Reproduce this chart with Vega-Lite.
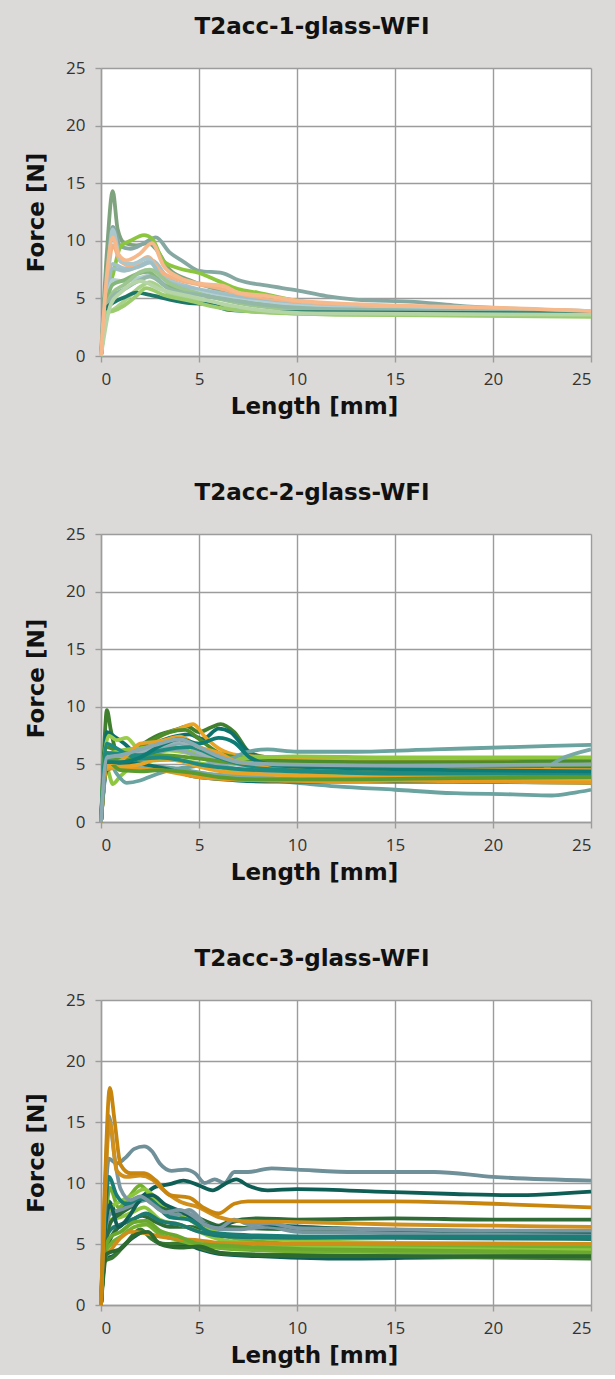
{
 "$schema": "https://vega.github.io/schema/vega-lite/v6.json",
 "background": "#dcdad8",
 "padding": {"left": 25, "top": 16, "right": 18, "bottom": 8},
 "spacing": 64,
 "resolve": {"scale": {"color": "independent"}},
 "config": {
  "view": {"fill": "white", "stroke": null},
  "title": {"font": "DejaVu Sans", "fontSize": 23, "fontWeight": "bold", "color": "#111111", "offset": 20, "anchor": "middle", "frame": "bounds"},
  "axis": {"gridColor": "#9c9c9c", "gridWidth": 1.4, "domainColor": "#9c9c9c", "domainWidth": 1.4, "tickColor": "#9c9c9c", "tickWidth": 1.4, "tickSize": 6, "labelFont": "Open Sans", "labelFontSize": 17, "labelColor": "#333333", "titleFont": "DejaVu Sans", "titleFontSize": 23, "titleFontWeight": "bold", "titleColor": "#111111"},
  "axisX": {"labelPadding": 9, "titlePadding": 8, "titleX": 213},
  "axisY": {"labelPadding": 10, "titlePadding": 17}
 },
 "datasets": {
  "d1": [
   {"s":"a","x":0,"y":0},{"s":"a","x":0.3,"y":9},{"s":"a","x":0.6,"y":14.3},{"s":"a","x":0.85,"y":11},{"s":"a","x":1.2,"y":9.8},{"s":"a","x":1.8,"y":9.6},{"s":"a","x":2.4,"y":9.8},{"s":"a","x":2.8,"y":9.3},{"s":"a","x":3.5,"y":7.5},{"s":"a","x":4.5,"y":6.6},{"s":"a","x":5.5,"y":6.0},{"s":"a","x":7,"y":5.3},{"s":"a","x":9,"y":4.8},{"s":"a","x":12,"y":4.3},{"s":"a","x":16,"y":4.0},{"s":"a","x":20,"y":3.8},{"s":"a","x":25,"y":3.7},
   {"s":"b","x":0,"y":0},{"s":"b","x":0.3,"y":7},{"s":"b","x":0.6,"y":11.2},{"s":"b","x":1.0,"y":9.5},{"s":"b","x":1.5,"y":9.3},{"s":"b","x":2.2,"y":9.8},{"s":"b","x":2.8,"y":10.3},{"s":"b","x":3.5,"y":9.0},{"s":"b","x":4.2,"y":8.2},{"s":"b","x":5,"y":7.4},{"s":"b","x":6.2,"y":7.2},{"s":"b","x":7,"y":6.6},{"s":"b","x":8.5,"y":6.1},{"s":"b","x":10,"y":5.7},{"s":"b","x":11.5,"y":5.2},{"s":"b","x":13,"y":4.9},{"s":"b","x":16,"y":4.7},{"s":"b","x":18,"y":4.4},{"s":"b","x":21,"y":4.1},{"s":"b","x":25,"y":3.9},
   {"s":"c","x":0,"y":0},{"s":"c","x":0.3,"y":5},{"s":"c","x":0.6,"y":7},{"s":"c","x":1.0,"y":9.5},{"s":"c","x":1.5,"y":10},{"s":"c","x":2.2,"y":10.5},{"s":"c","x":2.6,"y":10.2},{"s":"c","x":3.2,"y":8.2},{"s":"c","x":4,"y":7.6},{"s":"c","x":5,"y":7.2},{"s":"c","x":6,"y":6.5},{"s":"c","x":7,"y":5.8},{"s":"c","x":8,"y":5.5},{"s":"c","x":10,"y":4.8},{"s":"c","x":13,"y":4.3},{"s":"c","x":18,"y":4.0},{"s":"c","x":25,"y":3.8},
   {"s":"n","x":0,"y":0},{"s":"n","x":0.3,"y":5.5},{"s":"n","x":0.6,"y":8.0},{"s":"n","x":1.2,"y":7.6},{"s":"n","x":2,"y":7.9},{"s":"n","x":2.6,"y":8.3},{"s":"n","x":3.4,"y":6.8},{"s":"n","x":4.5,"y":6.0},{"s":"n","x":6,"y":5.5},{"s":"n","x":8,"y":4.9},{"s":"n","x":11,"y":4.3},{"s":"n","x":16,"y":4.0},{"s":"n","x":25,"y":3.8},
   {"s":"e","x":0,"y":0},{"s":"e","x":0.3,"y":6},{"s":"e","x":0.6,"y":9.6},{"s":"e","x":1.0,"y":8.2},{"s":"e","x":1.6,"y":7.8},{"s":"e","x":2.4,"y":8.6},{"s":"e","x":3,"y":7.4},{"s":"e","x":4,"y":6.6},{"s":"e","x":5,"y":6.2},{"s":"e","x":6,"y":5.9},{"s":"e","x":7.5,"y":5.2},{"s":"e","x":10,"y":4.6},{"s":"e","x":14,"y":4.3},{"s":"e","x":20,"y":4.1},{"s":"e","x":25,"y":3.9},
   {"s":"f","x":0,"y":0},{"s":"f","x":0.3,"y":6},{"s":"f","x":0.6,"y":11},{"s":"f","x":1.0,"y":8.2},{"s":"f","x":1.6,"y":8.0},{"s":"f","x":2.4,"y":8.5},{"s":"f","x":3,"y":7},{"s":"f","x":4,"y":6.2},{"s":"f","x":5,"y":5.6},{"s":"f","x":6.5,"y":5.2},{"s":"f","x":8,"y":4.7},{"s":"f","x":10,"y":4.4},{"s":"f","x":14,"y":4.1},{"s":"f","x":20,"y":3.9},{"s":"f","x":25,"y":3.8},
   {"s":"g","x":0,"y":0},{"s":"g","x":0.3,"y":5},{"s":"g","x":0.6,"y":7.6},{"s":"g","x":1.2,"y":7.4},{"s":"g","x":2,"y":7.8},{"s":"g","x":2.5,"y":8.1},{"s":"g","x":3.2,"y":6.6},{"s":"g","x":4.5,"y":5.9},{"s":"g","x":6,"y":5.4},{"s":"g","x":8,"y":4.8},{"s":"g","x":10,"y":4.4},{"s":"g","x":14,"y":4.0},{"s":"g","x":25,"y":3.8},
   {"s":"o","x":0,"y":0},{"s":"o","x":0.3,"y":4.5},{"s":"o","x":0.6,"y":6.6},{"s":"o","x":1.2,"y":6.5},{"s":"o","x":2,"y":6.8},{"s":"o","x":2.5,"y":7.0},{"s":"o","x":3.5,"y":6.0},{"s":"o","x":5,"y":5.5},{"s":"o","x":6.5,"y":5.0},{"s":"o","x":9,"y":4.5},{"s":"o","x":13,"y":4.1},{"s":"o","x":25,"y":3.9},
   {"s":"h","x":0,"y":0},{"s":"h","x":0.3,"y":4.5},{"s":"h","x":0.6,"y":6.2},{"s":"h","x":1.2,"y":6.6},{"s":"h","x":1.8,"y":7.1},{"s":"h","x":2.4,"y":7.3},{"s":"h","x":3.2,"y":6.2},{"s":"h","x":4.5,"y":5.6},{"s":"h","x":6,"y":5.0},{"s":"h","x":8,"y":4.5},{"s":"h","x":10,"y":4.1},{"s":"h","x":14,"y":3.9},{"s":"h","x":25,"y":3.7},
   {"s":"p","x":0,"y":0},{"s":"p","x":0.3,"y":4.2},{"s":"p","x":0.6,"y":5.5},{"s":"p","x":1.2,"y":6.2},{"s":"p","x":2,"y":7.3},{"s":"p","x":2.5,"y":7.5},{"s":"p","x":3.5,"y":6.3},{"s":"p","x":5,"y":5.4},{"s":"p","x":7,"y":4.6},{"s":"p","x":10,"y":4.0},{"s":"p","x":15,"y":3.8},{"s":"p","x":25,"y":3.6},
   {"s":"i","x":0,"y":0},{"s":"i","x":0.3,"y":4},{"s":"i","x":0.6,"y":5.2},{"s":"i","x":1.2,"y":5.8},{"s":"i","x":2,"y":6.6},{"s":"i","x":2.5,"y":6.9},{"s":"i","x":3.5,"y":5.8},{"s":"i","x":5,"y":5.3},{"s":"i","x":6.5,"y":4.9},{"s":"i","x":8,"y":4.5},{"s":"i","x":11,"y":4.1},{"s":"i","x":25,"y":3.8},
   {"s":"j","x":0,"y":0},{"s":"j","x":0.3,"y":3.8},{"s":"j","x":0.6,"y":4.0},{"s":"j","x":1.2,"y":4.8},{"s":"j","x":2,"y":6.0},{"s":"j","x":2.5,"y":6.4},{"s":"j","x":3.5,"y":5.4},{"s":"j","x":5,"y":4.9},{"s":"j","x":6,"y":4.4},{"s":"j","x":8,"y":3.9},{"s":"j","x":12,"y":3.6},{"s":"j","x":25,"y":3.5},
   {"s":"k","x":0,"y":0},{"s":"k","x":0.3,"y":4.2},{"s":"k","x":0.6,"y":4.6},{"s":"k","x":1.2,"y":5.1},{"s":"k","x":1.8,"y":5.5},{"s":"k","x":2.5,"y":5.3},{"s":"k","x":3.5,"y":4.9},{"s":"k","x":4.5,"y":4.6},{"s":"k","x":5.5,"y":4.5},{"s":"k","x":6.5,"y":4.0},{"s":"k","x":7.5,"y":3.9},{"s":"k","x":10,"y":3.8},{"s":"k","x":25,"y":3.7},
   {"s":"l","x":0,"y":0},{"s":"l","x":0.3,"y":3.8},{"s":"l","x":0.6,"y":3.9},{"s":"l","x":1.2,"y":4.4},{"s":"l","x":1.8,"y":5.2},{"s":"l","x":2.3,"y":5.9},{"s":"l","x":3.2,"y":5.3},{"s":"l","x":4.5,"y":4.8},{"s":"l","x":6,"y":4.2},{"s":"l","x":8,"y":3.8},{"s":"l","x":12,"y":3.6},{"s":"l","x":25,"y":3.4},
   {"s":"m","x":0,"y":0},{"s":"m","x":0.5,"y":4.5},{"s":"m","x":1,"y":5.5},{"s":"m","x":2,"y":6.5},{"s":"m","x":3,"y":5.8},{"s":"m","x":4.5,"y":5.2},{"s":"m","x":6,"y":4.6},{"s":"m","x":8,"y":4.0},{"s":"m","x":11,"y":3.7},{"s":"m","x":25,"y":3.6},
   {"s":"d","x":0,"y":0},{"s":"d","x":0.3,"y":7},{"s":"d","x":0.6,"y":10.3},{"s":"d","x":0.9,"y":8.8},{"s":"d","x":1.3,"y":8.3},{"s":"d","x":2,"y":8.9},{"s":"d","x":2.6,"y":9.8},{"s":"d","x":3.2,"y":7.8},{"s":"d","x":4,"y":6.8},{"s":"d","x":5,"y":6.3},{"s":"d","x":6.2,"y":6.1},{"s":"d","x":7,"y":5.5},{"s":"d","x":8.5,"y":5.2},{"s":"d","x":10,"y":4.8},{"s":"d","x":13,"y":4.5},{"s":"d","x":17,"y":4.3},{"s":"d","x":20,"y":4.2},{"s":"d","x":25,"y":3.9}
  ],
  "d2": [
   {"s":"a","x":0,"y":0},{"s":"a","x":0.15,"y":6},{"s":"a","x":0.3,"y":9.7},{"s":"a","x":0.5,"y":8},{"s":"a","x":0.8,"y":6},{"s":"a","x":1.3,"y":5.6},{"s":"a","x":2,"y":6.6},{"s":"a","x":3,"y":7.6},{"s":"a","x":3.8,"y":8.0},{"s":"a","x":4.4,"y":8.3},{"s":"a","x":5,"y":7.8},{"s":"a","x":5.6,"y":8.2},{"s":"a","x":6.1,"y":8.5},{"s":"a","x":6.8,"y":7.8},{"s":"a","x":7.6,"y":6.0},{"s":"a","x":8.5,"y":5.6},{"s":"a","x":10,"y":5.4},{"s":"a","x":13,"y":5.3},{"s":"a","x":18,"y":5.4},{"s":"a","x":25,"y":5.5},
   {"s":"b","x":0,"y":0},{"s":"b","x":0.15,"y":5},{"s":"b","x":0.3,"y":7.8},{"s":"b","x":0.7,"y":7.4},{"s":"b","x":1.2,"y":6.8},{"s":"b","x":1.8,"y":6.0},{"s":"b","x":2.5,"y":6.6},{"s":"b","x":3.5,"y":7.3},{"s":"b","x":4.5,"y":7.6},{"s":"b","x":5.2,"y":7.2},{"s":"b","x":6,"y":8.1},{"s":"b","x":6.6,"y":7.8},{"s":"b","x":7.4,"y":6.3},{"s":"b","x":8.5,"y":5.4},{"s":"b","x":10,"y":5.0},{"s":"b","x":15,"y":4.8},{"s":"b","x":20,"y":4.8},{"s":"b","x":25,"y":4.7},
   {"s":"c","x":0,"y":0},{"s":"c","x":0.3,"y":5.2},{"s":"c","x":1,"y":5.0},{"s":"c","x":2,"y":5.8},{"s":"c","x":3,"y":7.4},{"s":"c","x":4,"y":8.1},{"s":"c","x":4.7,"y":8.5},{"s":"c","x":5.3,"y":7.4},{"s":"c","x":6,"y":6.4},{"s":"c","x":7,"y":5.8},{"s":"c","x":9,"y":5.6},{"s":"c","x":12,"y":5.4},{"s":"c","x":18,"y":5.3},{"s":"c","x":25,"y":5.2},
   {"s":"d","x":0,"y":0},{"s":"d","x":0.15,"y":4},{"s":"d","x":0.3,"y":4.6},{"s":"d","x":0.6,"y":3.3},{"s":"d","x":1,"y":4.0},{"s":"d","x":1.6,"y":4.8},{"s":"d","x":2.5,"y":5.3},{"s":"d","x":3.5,"y":5.4},{"s":"d","x":5,"y":5.1},{"s":"d","x":6.5,"y":4.6},{"s":"d","x":8,"y":4.3},{"s":"d","x":12,"y":4.1},{"s":"d","x":18,"y":4.0},{"s":"d","x":25,"y":4.1},
   {"s":"e","x":0,"y":0},{"s":"e","x":0.2,"y":6},{"s":"e","x":0.4,"y":7.5},{"s":"e","x":0.8,"y":7.1},{"s":"e","x":1.3,"y":7.3},{"s":"e","x":1.8,"y":6.5},{"s":"e","x":2.5,"y":6.0},{"s":"e","x":3.5,"y":6.2},{"s":"e","x":5,"y":5.8},{"s":"e","x":7,"y":5.4},{"s":"e","x":10,"y":5.2},{"s":"e","x":15,"y":5.1},{"s":"e","x":25,"y":5.0},
   {"s":"q","x":0,"y":0},{"s":"q","x":0.3,"y":6.5},{"s":"q","x":0.8,"y":6.2},{"s":"q","x":1.5,"y":6.0},{"s":"q","x":2.5,"y":7.0},{"s":"q","x":3.5,"y":7.8},{"s":"q","x":4.3,"y":8.0},{"s":"q","x":5,"y":7.2},{"s":"q","x":6,"y":6.0},{"s":"q","x":7,"y":5.6},{"s":"q","x":9,"y":5.3},{"s":"q","x":13,"y":5.2},{"s":"q","x":20,"y":5.2},{"s":"q","x":25,"y":5.3},
   {"s":"r","x":0,"y":0},{"s":"r","x":0.3,"y":5.8},{"s":"r","x":1,"y":6.2},{"s":"r","x":2,"y":6.4},{"s":"r","x":3,"y":6.6},{"s":"r","x":4,"y":6.4},{"s":"r","x":5,"y":5.9},{"s":"r","x":6.5,"y":5.5},{"s":"r","x":8,"y":5.6},{"s":"r","x":10,"y":5.7},{"s":"r","x":15,"y":5.6},{"s":"r","x":25,"y":5.6},
   {"s":"f","x":0,"y":0},{"s":"f","x":0.3,"y":5},{"s":"f","x":1,"y":5.5},{"s":"f","x":2,"y":5.9},{"s":"f","x":3,"y":6.3},{"s":"f","x":4,"y":6.8},{"s":"f","x":4.8,"y":6.6},{"s":"f","x":6,"y":5.6},{"s":"f","x":7.5,"y":4.9},{"s":"f","x":10,"y":4.5},{"s":"f","x":14,"y":4.2},{"s":"f","x":20,"y":4.0},{"s":"f","x":25,"y":4.0},
   {"s":"g","x":0,"y":0},{"s":"g","x":0.3,"y":5.5},{"s":"g","x":1,"y":5.7},{"s":"g","x":2,"y":6.0},{"s":"g","x":3,"y":6.6},{"s":"g","x":4,"y":7.0},{"s":"g","x":5,"y":6.0},{"s":"g","x":6,"y":5.3},{"s":"g","x":8,"y":4.8},{"s":"g","x":11,"y":4.5},{"s":"g","x":16,"y":4.4},{"s":"g","x":25,"y":4.3},
   {"s":"h","x":0,"y":0},{"s":"h","x":0.2,"y":4},{"s":"h","x":0.4,"y":5.2},{"s":"h","x":0.8,"y":4.2},{"s":"h","x":1.3,"y":3.4},{"s":"h","x":2,"y":3.6},{"s":"h","x":2.6,"y":4.0},{"s":"h","x":3.5,"y":4.5},{"s":"h","x":5,"y":4.9},{"s":"h","x":6.5,"y":5.4},{"s":"h","x":7.5,"y":6.1},{"s":"h","x":8.5,"y":6.3},{"s":"h","x":10,"y":6.1},{"s":"h","x":13,"y":6.1},{"s":"h","x":17,"y":6.3},{"s":"h","x":21,"y":6.5},{"s":"h","x":25,"y":6.7},
   {"s":"i","x":0,"y":0},{"s":"i","x":0.3,"y":5.0},{"s":"i","x":1,"y":5.4},{"s":"i","x":2,"y":5.0},{"s":"i","x":3,"y":4.8},{"s":"i","x":4,"y":4.6},{"s":"i","x":5,"y":4.3},{"s":"i","x":6.5,"y":3.9},{"s":"i","x":8,"y":3.7},{"s":"i","x":10,"y":3.4},{"s":"i","x":12,"y":3.1},{"s":"i","x":15,"y":2.8},{"s":"i","x":18,"y":2.5},{"s":"i","x":21,"y":2.4},{"s":"i","x":23,"y":2.3},{"s":"i","x":24,"y":2.5},{"s":"i","x":25,"y":2.8},
   {"s":"j","x":0,"y":0},{"s":"j","x":0.3,"y":4.8},{"s":"j","x":1,"y":5.0},{"s":"j","x":2,"y":4.7},{"s":"j","x":4,"y":4.4},{"s":"j","x":6,"y":4.1},{"s":"j","x":8,"y":3.9},{"s":"j","x":12,"y":3.6},{"s":"j","x":16,"y":3.5},{"s":"j","x":20,"y":3.5},{"s":"j","x":22,"y":4.0},{"s":"j","x":23.5,"y":5.5},{"s":"j","x":25,"y":6.3},
   {"s":"u","x":0,"y":0},{"s":"u","x":0.3,"y":4.6},{"s":"u","x":1,"y":4.8},{"s":"u","x":1.8,"y":5.2},{"s":"u","x":2.8,"y":6.0},{"s":"u","x":3.8,"y":6.3},{"s":"u","x":4.8,"y":5.8},{"s":"u","x":6,"y":5.0},{"s":"u","x":8,"y":4.3},{"s":"u","x":12,"y":3.9},{"s":"u","x":18,"y":3.7},{"s":"u","x":25,"y":3.6},
   {"s":"k","x":0,"y":0},{"s":"k","x":0.3,"y":4.5},{"s":"k","x":1,"y":4.9},{"s":"k","x":1.8,"y":5.1},{"s":"k","x":2.8,"y":4.8},{"s":"k","x":3.8,"y":4.4},{"s":"k","x":4.6,"y":4.0},{"s":"k","x":5.5,"y":3.8},{"s":"k","x":7,"y":3.6},{"s":"k","x":9,"y":3.5},{"s":"k","x":12,"y":3.5},{"s":"k","x":18,"y":3.5},{"s":"k","x":25,"y":3.4},
   {"s":"l","x":0,"y":0},{"s":"l","x":0.3,"y":4.6},{"s":"l","x":1,"y":4.7},{"s":"l","x":2,"y":4.6},{"s":"l","x":3,"y":4.5},{"s":"l","x":4,"y":4.2},{"s":"l","x":5,"y":3.9},{"s":"l","x":6.5,"y":3.7},{"s":"l","x":9,"y":3.6},{"s":"l","x":12,"y":3.5},{"s":"l","x":15,"y":3.6},{"s":"l","x":20,"y":3.5},{"s":"l","x":25,"y":3.4},
   {"s":"t","x":0,"y":0},{"s":"t","x":0.3,"y":4.8},{"s":"t","x":1,"y":4.8},{"s":"t","x":2,"y":5.0},{"s":"t","x":3,"y":5.5},{"s":"t","x":4,"y":5.3},{"s":"t","x":5,"y":4.8},{"s":"t","x":6.5,"y":4.3},{"s":"t","x":9,"y":4.1},{"s":"t","x":13,"y":3.9},{"s":"t","x":18,"y":3.8},{"s":"t","x":25,"y":3.7},
   {"s":"v","x":0,"y":0},{"s":"v","x":0.3,"y":5.3},{"s":"v","x":1,"y":4.5},{"s":"v","x":2,"y":4.4},{"s":"v","x":3,"y":4.5},{"s":"v","x":4.5,"y":4.3},{"s":"v","x":6,"y":3.9},{"s":"v","x":8,"y":3.7},{"s":"v","x":12,"y":3.7},{"s":"v","x":18,"y":3.8},{"s":"v","x":25,"y":3.9},
   {"s":"m","x":0,"y":0},{"s":"m","x":0.3,"y":5.5},{"s":"m","x":1,"y":5.4},{"s":"m","x":2,"y":5.5},{"s":"m","x":3,"y":5.8},{"s":"m","x":5,"y":5.5},{"s":"m","x":7,"y":5.1},{"s":"m","x":9,"y":5.0},{"s":"m","x":13,"y":4.9},{"s":"m","x":25,"y":4.9},
   {"s":"w","x":0,"y":0},{"s":"w","x":0.3,"y":6.8},{"s":"w","x":0.7,"y":6.5},{"s":"w","x":1.2,"y":6.0},{"s":"w","x":2,"y":5.5},{"s":"w","x":3,"y":5.6},{"s":"w","x":4,"y":5.4},{"s":"w","x":5,"y":5.0},{"s":"w","x":7,"y":4.6},{"s":"w","x":10,"y":4.4},{"s":"w","x":15,"y":4.2},{"s":"w","x":25,"y":4.2},
   {"s":"n","x":0,"y":0},{"s":"n","x":0.3,"y":6},{"s":"n","x":1,"y":5.9},{"s":"n","x":2,"y":5.8},{"s":"n","x":3,"y":6.2},{"s":"n","x":4.5,"y":6.5},{"s":"n","x":6,"y":5.6},{"s":"n","x":7.5,"y":4.9},{"s":"n","x":10,"y":4.6},{"s":"n","x":15,"y":4.5},{"s":"n","x":25,"y":4.5},
   {"s":"o","x":0,"y":0},{"s":"o","x":0.3,"y":5},{"s":"o","x":1,"y":5.3},{"s":"o","x":2,"y":6.8},{"s":"o","x":3,"y":7.0},{"s":"o","x":4,"y":7.4},{"s":"o","x":5,"y":6.5},{"s":"o","x":6,"y":6.0},{"s":"o","x":7,"y":5.2},{"s":"o","x":10,"y":4.8},{"s":"o","x":15,"y":4.6},{"s":"o","x":25,"y":4.5},
   {"s":"s","x":0,"y":0},{"s":"s","x":0.3,"y":5.2},{"s":"s","x":1,"y":5.2},{"s":"s","x":2,"y":5.6},{"s":"s","x":3,"y":6.6},{"s":"s","x":4,"y":7.2},{"s":"s","x":5,"y":6.8},{"s":"s","x":6,"y":7.3},{"s":"s","x":6.8,"y":6.9},{"s":"s","x":7.6,"y":5.6},{"s":"s","x":9,"y":4.9},{"s":"s","x":12,"y":4.7},{"s":"s","x":18,"y":4.5},{"s":"s","x":25,"y":4.4},
   {"s":"p","x":0,"y":0},{"s":"p","x":0.3,"y":5.6},{"s":"p","x":1,"y":5.8},{"s":"p","x":2,"y":6.3},{"s":"p","x":3,"y":6.8},{"s":"p","x":4,"y":7.2},{"s":"p","x":5,"y":6.5},{"s":"p","x":6,"y":5.7},{"s":"p","x":7,"y":5.2},{"s":"p","x":9,"y":5.0},{"s":"p","x":14,"y":4.9},{"s":"p","x":25,"y":5.0}
  ],
  "d3": [
   {"s":"a","x":0,"y":0.5},{"s":"a","x":0.2,"y":8},{"s":"a","x":0.4,"y":12},{"s":"a","x":0.8,"y":11.6},{"s":"a","x":1.2,"y":12.0},{"s":"a","x":1.7,"y":12.8},{"s":"a","x":2.2,"y":13.0},{"s":"a","x":2.6,"y":12.6},{"s":"a","x":3,"y":11.6},{"s":"a","x":3.6,"y":11.0},{"s":"a","x":4.3,"y":11.1},{"s":"a","x":4.8,"y":10.8},{"s":"a","x":5.3,"y":10.0},{"s":"a","x":5.8,"y":10.3},{"s":"a","x":6.3,"y":10.0},{"s":"a","x":6.8,"y":10.9},{"s":"a","x":7.5,"y":10.9},{"s":"a","x":8.7,"y":11.2},{"s":"a","x":10,"y":11.1},{"s":"a","x":13,"y":10.9},{"s":"a","x":17,"y":10.9},{"s":"a","x":20,"y":10.5},{"s":"a","x":25,"y":10.2},
   {"s":"b","x":0,"y":0},{"s":"b","x":0.2,"y":5},{"s":"b","x":0.4,"y":8.5},{"s":"b","x":0.8,"y":7.5},{"s":"b","x":1.3,"y":8.2},{"s":"b","x":2,"y":8.8},{"s":"b","x":2.8,"y":9.7},{"s":"b","x":3.5,"y":9.9},{"s":"b","x":4.2,"y":10.2},{"s":"b","x":5,"y":9.8},{"s":"b","x":5.7,"y":9.4},{"s":"b","x":6.3,"y":9.9},{"s":"b","x":6.9,"y":10.3},{"s":"b","x":7.5,"y":9.8},{"s":"b","x":8.5,"y":9.4},{"s":"b","x":10,"y":9.5},{"s":"b","x":14,"y":9.3},{"s":"b","x":18,"y":9.1},{"s":"b","x":21,"y":9.0},{"s":"b","x":25,"y":9.3},
   {"s":"f","x":0,"y":0},{"s":"f","x":0.2,"y":4},{"s":"f","x":0.5,"y":5.5},{"s":"f","x":1,"y":6.5},{"s":"f","x":1.6,"y":7.0},{"s":"f","x":2.1,"y":7.3},{"s":"f","x":2.8,"y":6.8},{"s":"f","x":3.5,"y":6.4},{"s":"f","x":4.5,"y":6.4},{"s":"f","x":5.5,"y":6.2},{"s":"f","x":6.5,"y":6.8},{"s":"f","x":8,"y":7.1},{"s":"f","x":10,"y":7.0},{"s":"f","x":15,"y":7.1},{"s":"f","x":20,"y":7.0},{"s":"f","x":25,"y":7.0},
   {"s":"g","x":0,"y":0},{"s":"g","x":0.2,"y":6},{"s":"g","x":0.45,"y":9.6},{"s":"g","x":0.9,"y":8.0},{"s":"g","x":1.4,"y":8.8},{"s":"g","x":2,"y":9.8},{"s":"g","x":2.6,"y":8.8},{"s":"g","x":3.3,"y":7.8},{"s":"g","x":4.2,"y":7.3},{"s":"g","x":5,"y":6.5},{"s":"g","x":6,"y":5.8},{"s":"g","x":7,"y":5.4},{"s":"g","x":9,"y":5.1},{"s":"g","x":12,"y":4.9},{"s":"g","x":18,"y":4.8},{"s":"g","x":25,"y":4.7},
   {"s":"r","x":0,"y":0},{"s":"r","x":0.2,"y":5.5},{"s":"r","x":0.5,"y":8},{"s":"r","x":1,"y":8.5},{"s":"r","x":1.6,"y":9.0},{"s":"r","x":2.2,"y":9.5},{"s":"r","x":3,"y":8.4},{"s":"r","x":4,"y":7.6},{"s":"r","x":5,"y":6.8},{"s":"r","x":6,"y":5.9},{"s":"r","x":7.5,"y":5.6},{"s":"r","x":10,"y":5.3},{"s":"r","x":15,"y":5.1},{"s":"r","x":25,"y":5.0},
   {"s":"h","x":0,"y":0},{"s":"h","x":0.2,"y":5},{"s":"h","x":0.5,"y":7},{"s":"h","x":1,"y":7.2},{"s":"h","x":1.6,"y":7.6},{"s":"h","x":2.2,"y":8.0},{"s":"h","x":3,"y":7.0},{"s":"h","x":4,"y":6.6},{"s":"h","x":5,"y":6.0},{"s":"h","x":6,"y":5.4},{"s":"h","x":8,"y":5.0},{"s":"h","x":12,"y":4.7},{"s":"h","x":25,"y":4.5},
   {"s":"i","x":0,"y":0},{"s":"i","x":0.2,"y":3.8},{"s":"i","x":0.6,"y":4.0},{"s":"i","x":1.1,"y":4.8},{"s":"i","x":1.7,"y":5.6},{"s":"i","x":2.2,"y":6.0},{"s":"i","x":2.8,"y":5.2},{"s":"i","x":3.5,"y":4.9},{"s":"i","x":4.3,"y":5.0},{"s":"i","x":5,"y":4.6},{"s":"i","x":6,"y":4.2},{"s":"i","x":8,"y":4.0},{"s":"i","x":12,"y":3.8},{"s":"i","x":18,"y":3.9},{"s":"i","x":25,"y":3.9},
   {"s":"j","x":0,"y":0},{"s":"j","x":0.2,"y":3.6},{"s":"j","x":0.6,"y":3.9},{"s":"j","x":1.3,"y":5.1},{"s":"j","x":2,"y":6.2},{"s":"j","x":2.6,"y":5.4},{"s":"j","x":3.3,"y":5.0},{"s":"j","x":4.3,"y":5.1},{"s":"j","x":5.2,"y":4.6},{"s":"j","x":6.5,"y":4.2},{"s":"j","x":10,"y":4.1},{"s":"j","x":15,"y":4.0},{"s":"j","x":25,"y":3.8},
   {"s":"t","x":0,"y":0},{"s":"t","x":0.2,"y":4.2},{"s":"t","x":0.5,"y":5.0},{"s":"t","x":1,"y":5.6},{"s":"t","x":1.7,"y":6.4},{"s":"t","x":2.3,"y":6.6},{"s":"t","x":3,"y":5.8},{"s":"t","x":4,"y":5.3},{"s":"t","x":5,"y":4.9},{"s":"t","x":6.5,"y":4.6},{"s":"t","x":10,"y":4.4},{"s":"t","x":25,"y":4.2},
   {"s":"k","x":0,"y":0},{"s":"k","x":0.2,"y":5},{"s":"k","x":0.5,"y":6.2},{"s":"k","x":1,"y":6.6},{"s":"k","x":1.6,"y":7.0},{"s":"k","x":2.3,"y":7.5},{"s":"k","x":3,"y":6.9},{"s":"k","x":4,"y":6.6},{"s":"k","x":5,"y":6.0},{"s":"k","x":6.5,"y":5.6},{"s":"k","x":10,"y":5.5},{"s":"k","x":15,"y":5.5},{"s":"k","x":25,"y":5.4},
   {"s":"l","x":0,"y":0},{"s":"l","x":0.2,"y":3.8},{"s":"l","x":0.5,"y":4.5},{"s":"l","x":1,"y":5.5},{"s":"l","x":1.5,"y":6.0},{"s":"l","x":2.2,"y":5.9},{"s":"l","x":3,"y":5.6},{"s":"l","x":4,"y":5.4},{"s":"l","x":5,"y":5.3},{"s":"l","x":6,"y":5.1},{"s":"l","x":10,"y":5.0},{"s":"l","x":15,"y":5.0},{"s":"l","x":25,"y":5.0},
   {"s":"s","x":0,"y":0},{"s":"s","x":0.2,"y":4.6},{"s":"s","x":0.5,"y":6.8},{"s":"s","x":1,"y":7.5},{"s":"s","x":1.7,"y":8.2},{"s":"s","x":2.3,"y":8.8},{"s":"s","x":3,"y":8.0},{"s":"s","x":4,"y":7.6},{"s":"s","x":5,"y":7.1},{"s":"s","x":6,"y":6.5},{"s":"s","x":7.5,"y":6.3},{"s":"s","x":10,"y":6.2},{"s":"s","x":15,"y":6.1},{"s":"s","x":25,"y":6.0},
   {"s":"m","x":0,"y":0},{"s":"m","x":0.2,"y":6},{"s":"m","x":0.5,"y":7.5},{"s":"m","x":1,"y":7.8},{"s":"m","x":1.6,"y":8.2},{"s":"m","x":2.3,"y":8.6},{"s":"m","x":3,"y":7.8},{"s":"m","x":3.8,"y":7.4},{"s":"m","x":4.5,"y":7.8},{"s":"m","x":5.3,"y":6.7},{"s":"m","x":6.2,"y":6.2},{"s":"m","x":7,"y":6.2},{"s":"m","x":8.5,"y":6.4},{"s":"m","x":10,"y":6.0},{"s":"m","x":15,"y":5.9},{"s":"m","x":25,"y":5.8},
   {"s":"n","x":0,"y":0},{"s":"n","x":0.2,"y":6},{"s":"n","x":0.45,"y":8.2},{"s":"n","x":0.9,"y":6.4},{"s":"n","x":1.4,"y":7.2},{"s":"n","x":2,"y":8.6},{"s":"n","x":2.6,"y":9.0},{"s":"n","x":3.3,"y":8.2},{"s":"n","x":4.2,"y":7.6},{"s":"n","x":5,"y":6.8},{"s":"n","x":6,"y":6.4},{"s":"n","x":7,"y":6.9},{"s":"n","x":8.5,"y":6.6},{"s":"n","x":12,"y":6.3},{"s":"n","x":18,"y":6.1},{"s":"n","x":25,"y":6.0},
   {"s":"o","x":0,"y":0},{"s":"o","x":0.2,"y":4.5},{"s":"o","x":0.5,"y":5.6},{"s":"o","x":1,"y":6.0},{"s":"o","x":1.7,"y":6.8},{"s":"o","x":2.3,"y":6.9},{"s":"o","x":3,"y":6.1},{"s":"o","x":4,"y":5.6},{"s":"o","x":5,"y":5.0},{"s":"o","x":7,"y":4.8},{"s":"o","x":10,"y":4.6},{"s":"o","x":15,"y":4.5},{"s":"o","x":25,"y":4.3},
   {"s":"p","x":0,"y":0},{"s":"p","x":0.2,"y":7},{"s":"p","x":0.4,"y":10.5},{"s":"p","x":0.8,"y":9},{"s":"p","x":1.3,"y":8.3},{"s":"p","x":2,"y":8.7},{"s":"p","x":2.6,"y":8.5},{"s":"p","x":3.5,"y":7.2},{"s":"p","x":4.5,"y":7.0},{"s":"p","x":5.5,"y":6.0},{"s":"p","x":6.5,"y":5.8},{"s":"p","x":8,"y":5.7},{"s":"p","x":12,"y":5.6},{"s":"p","x":25,"y":5.6},
   {"s":"q","x":0,"y":0},{"s":"q","x":0.3,"y":4.2},{"s":"q","x":1,"y":4.6},{"s":"q","x":1.8,"y":5.8},{"s":"q","x":2.4,"y":6.0},{"s":"q","x":3,"y":5.0},{"s":"q","x":4,"y":4.7},{"s":"q","x":5,"y":4.8},{"s":"q","x":6,"y":4.3},{"s":"q","x":8,"y":4.1},{"s":"q","x":12,"y":4.0},{"s":"q","x":25,"y":4.0},
   {"s":"e","x":0,"y":0},{"s":"e","x":0.2,"y":9},{"s":"e","x":0.4,"y":15.5},{"s":"e","x":0.7,"y":12},{"s":"e","x":1.0,"y":9.5},{"s":"e","x":1.5,"y":8.6},{"s":"e","x":2,"y":8.9},{"s":"e","x":2.6,"y":8.3},{"s":"e","x":3.3,"y":7.6},{"s":"e","x":4,"y":7.8},{"s":"e","x":4.6,"y":7.4},{"s":"e","x":5.3,"y":6.6},{"s":"e","x":6,"y":6.3},{"s":"e","x":6.8,"y":7.0},{"s":"e","x":7.6,"y":6.6},{"s":"e","x":8.6,"y":6.7},{"s":"e","x":10,"y":6.3},{"s":"e","x":15,"y":6.2},{"s":"e","x":20,"y":6.1},{"s":"e","x":25,"y":6.1},
   {"s":"d","x":0,"y":0},{"s":"d","x":0.2,"y":9},{"s":"d","x":0.45,"y":15},{"s":"d","x":0.8,"y":11},{"s":"d","x":1.3,"y":10.5},{"s":"d","x":2,"y":10.6},{"s":"d","x":2.6,"y":10.3},{"s":"d","x":3.2,"y":9.4},{"s":"d","x":4,"y":8.5},{"s":"d","x":5,"y":8.0},{"s":"d","x":6,"y":7.2},{"s":"d","x":7,"y":6.9},{"s":"d","x":10,"y":6.8},{"s":"d","x":15,"y":6.6},{"s":"d","x":20,"y":6.5},{"s":"d","x":25,"y":6.4},
   {"s":"c","x":0,"y":0},{"s":"c","x":0.2,"y":10},{"s":"c","x":0.45,"y":17.8},{"s":"c","x":0.7,"y":15},{"s":"c","x":1.0,"y":11.5},{"s":"c","x":1.5,"y":10.8},{"s":"c","x":2.2,"y":10.8},{"s":"c","x":2.8,"y":10.2},{"s":"c","x":3.5,"y":9.0},{"s":"c","x":4.5,"y":8.8},{"s":"c","x":5.2,"y":8.0},{"s":"c","x":6,"y":7.5},{"s":"c","x":6.8,"y":8.3},{"s":"c","x":7.5,"y":8.5},{"s":"c","x":10,"y":8.5},{"s":"c","x":15,"y":8.5},{"s":"c","x":20,"y":8.3},{"s":"c","x":25,"y":8.0}
  ]
 },
 "vconcat": [
  {
   "title": "T2acc-1-glass-WFI",
   "width": 490, "height": 288,
   "data": {"name": "d1"},
   "mark": {"type": "line", "strokeWidth": 3.8, "interpolate": "monotone"},
   "encoding": {
    "x": {"field": "x", "type": "quantitative", "scale": {"domain": [0, 25], "nice": false}, "axis": {"title": "Length [mm]", "values": [0, 5, 10, 15, 20, 25]}},
    "y": {"field": "y", "type": "quantitative", "scale": {"domain": [0, 25], "nice": false}, "axis": {"title": "Force [N]", "values": [0, 5, 10, 15, 20, 25]}},
    "color": {"field": "s", "type": "nominal", "legend": null, "scale": {"domain": ["a","b","c","n","e","f","g","o","h","p","i","j","k","l","m","d"], "range": ["#7fa37f","#86a8a2","#8cc63f","#a3c1c7","#f4b284","#a9c7cc","#9fbfc6","#b4cfd3","#86b77a","#9cc58f","#93b8a8","#a8d18c","#1d7668","#9ccc6e","#b5d5a8","#f6b98b"]}}
   }
  },
  {
   "title": "T2acc-2-glass-WFI",
   "width": 490, "height": 288,
   "data": {"name": "d2"},
   "mark": {"type": "line", "strokeWidth": 3.8, "interpolate": "monotone"},
   "encoding": {
    "x": {"field": "x", "type": "quantitative", "scale": {"domain": [0, 25], "nice": false}, "axis": {"title": "Length [mm]", "values": [0, 5, 10, 15, 20, 25]}},
    "y": {"field": "y", "type": "quantitative", "scale": {"domain": [0, 25], "nice": false}, "axis": {"title": "Force [N]", "values": [0, 5, 10, 15, 20, 25]}},
    "color": {"field": "s", "type": "nominal", "legend": null, "scale": {"domain": ["a","b","c","d","e","q","r","f","g","h","i","j","u","k","l","t","v","m","w","n","o","s","p"], "range": ["#3f7f2e","#0d706b","#e9a425","#8ec63f","#9acd4a","#4c8c2c","#8ec63f","#8aa9b0","#9bb3b8","#6aa39f","#6aa39f","#79a9a7","#8eaab2","#0d706b","#e39a1e","#e9a425","#5b9a2f","#5b9a2f","#1f8a80","#1f8a80","#e7a028","#0e7c74","#8aa9b0"]}}
   }
  },
  {
   "title": "T2acc-3-glass-WFI",
   "width": 490, "height": 305,
   "data": {"name": "d3"},
   "mark": {"type": "line", "strokeWidth": 3.8, "interpolate": "monotone"},
   "encoding": {
    "x": {"field": "x", "type": "quantitative", "scale": {"domain": [0, 25], "nice": false}, "axis": {"title": "Length [mm]", "values": [0, 5, 10, 15, 20, 25]}},
    "y": {"field": "y", "type": "quantitative", "scale": {"domain": [0, 25], "nice": false}, "axis": {"title": "Force [N]", "values": [0, 5, 10, 15, 20, 25]}},
    "color": {"field": "s", "type": "nominal", "legend": null, "scale": {"domain": ["a","b","f","g","r","h","i","j","t","k","l","s","m","n","o","p","q","e","d","c"], "range": ["#6f8f99","#0f5e55","#2e6b36","#74b02f","#8cc63f","#8cc63f","#0f5e55","#3b7a32","#74b02f","#1e7a70","#cf8e1a","#2e6b36","#7896a0","#125f57","#6aa82e","#1b7e76","#2c6a2f","#7b98a2","#d18f1c","#c8860f"]}}
   }
  }
 ]
}
